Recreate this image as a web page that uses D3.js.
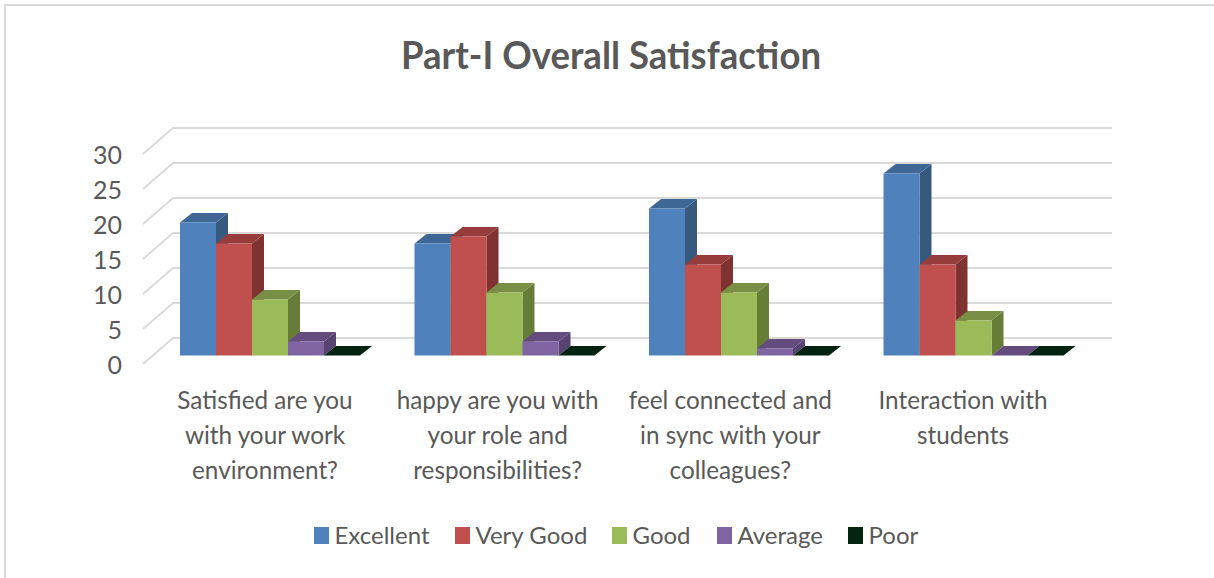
<!DOCTYPE html>
<html>
<head>
<meta charset="utf-8">
<script src="https://cdn.jsdelivr.net/npm/d3@7"></script>
<style>
  html, body { margin: 0; padding: 0; background: #fff; }
  svg { display: block; }
  text { font-family: Lato, "Open Sans", sans-serif; fill: #595959; }
</style>
</head>
<body>
<div id="chart"></div>
<script>
var categories = ["Satisfied", "Happy", "Connected", "Interaction"];
var categoryLines = [
  ["Satisfied are you", "with your work", "environment?"],
  ["happy are you with", "your role and", "responsibilities?"],
  ["feel connected and", "in sync with your", "colleagues?"],
  ["Interaction with", "students"]
];
var seriesNames = ["Excellent", "Very Good", "Good", "Average", "Poor"];
var excellent = [19, 16, 21, 26];
var veryGood = [16, 17, 13, 13];
var good = [8, 9, 9, 5];
var average = [2, 2, 1, 0];
var poor = [0, 0, 0, 0];
var seriesValues = [excellent, veryGood, good, average, poor];
var yTicks = [0, 5, 10, 15, 20, 25, 30];

var frontColors = ["#4f81bd", "#c0504d", "#9bbb59", "#8064a2", "#02230f"];
var topColors = ["#3f6796", "#963d3b", "#788f45", "#644d7e", "#02230f"];
var sideColors = ["#37587f", "#7f3230", "#667d38", "#574370", "#02230f"];

var w = 1214, h = 578;
var depthX = 30, depthY = 26;     // whole floor depth
var barDepthX = 12, barDepthY = 9.5;
var barShiftX = 9.5, barShiftY = 8.5;

var svg = d3.select("#chart").append("svg")
    .attr("width", w)
    .attr("height", h);

// chart frame, only top and left show in the picture
svg.append("path")
    .attr("d", "M5,578V5H1214")
    .attr("fill", "none")
    .attr("stroke", "#d9d9d9")
    .attr("stroke-width", 2);

svg.append("text")
    .attr("x", 401)
    .attr("y", 69)
    .attr("textLength", 420)
    .attr("lengthAdjust", "spacingAndGlyphs")
    .style("font-size", "38px")
    .style("font-weight", 700)
    .text("Part-I Overall Satisfaction");

var y = d3.scaleLinear().domain([0, 30]).range([364, 154]);

var x = d3.scaleBand().domain(categories).range([143, 1081]);
var inner = d3.scaleBand().domain(seriesNames)
    .range([barShiftX + 27.5, barShiftX + 207.5]);

// wall lines, drawn on the front plane then pushed back
var grid = svg.append("g").attr("fill", "none").attr("stroke", "#d9d9d9").attr("stroke-width", 1.8);
grid.selectAll("path")
    .data(yTicks)
    .enter().append("path")
    .attr("d", function(d) {
      var x0 = x.range()[0], x1 = x.range()[1], yy = y(d);
      return "M" + x0 + "," + yy + "L" + (x0 + depthX) + "," + (yy - depthY) + "H" + (x1 + depthX + 1);
    });

// y labels
var yAxis = svg.append("g")
    .attr("transform", "translate(129,1)")
    .call(d3.axisLeft(y).tickValues(yTicks).tickSize(0).tickPadding(7).tickFormat(d3.format("d")));
yAxis.select(".domain").remove();
yAxis.selectAll("text")
    .style("font-size", "25px")
    .style("font-family", "Lato, sans-serif")
    .attr("fill", null);

// bars
var groups = svg.selectAll("g.group")
    .data(categories)
    .enter().append("g")
    .attr("class", "group")
    .attr("transform", function(d) { return "translate(" + x(d) + ",0)"; });

groups.each(function(cat, ci) {
  var g = d3.select(this);
  seriesNames.forEach(function(name, si) {
    var v = seriesValues[si][ci];
    var x0 = inner(name), x1 = x0 + inner.bandwidth();
    var base = y(0) - barShiftY, top = y(v) - barShiftY;

    if (v > 0) {
      g.append("path")
          .attr("fill", sideColors[si])
          .attr("d", "M" + x1 + "," + top + "l" + barDepthX + "," + (-barDepthY) +
                "V" + (base - barDepthY) + "L" + x1 + "," + base + "Z");
    }
    g.append("path")
        .attr("fill", topColors[si])
        .attr("d", "M" + x0 + "," + top + "l" + barDepthX + "," + (-barDepthY) +
              "H" + (x1 + barDepthX) + "L" + x1 + "," + top + "Z");
    if (v > 0) {
      g.append("rect")
          .attr("x", x0)
          .attr("y", top)
          .attr("width", inner.bandwidth())
          .attr("height", base - top)
          .attr("fill", frontColors[si]);
    }
  });
});

// category labels
var labelX = d3.scalePoint().domain(categories).range([265, 963]);
var labels = svg.selectAll("text.cat")
    .data(categories)
    .enter().append("text")
    .attr("class", "cat")
    .attr("text-anchor", "middle")
    .style("font-size", "24.3px");
labels.each(function(cat, ci) {
  d3.select(this).selectAll("tspan")
      .data(categoryLines[ci])
      .enter().append("tspan")
      .attr("x", labelX(cat))
      .attr("y", function(d, i) { return 409 + i * 35; })
      .text(function(d) { return d; });
});

// legend
var legendX = d3.scaleOrdinal().domain(seriesNames).range([314, 455, 612, 717, 848]);
var legend = svg.selectAll("g.legend")
    .data(seriesNames)
    .enter().append("g")
    .attr("class", "legend")
    .attr("transform", function(d) { return "translate(" + legendX(d) + ",527)"; });
legend.append("rect")
    .attr("width", 15)
    .attr("height", 17)
    .attr("fill", function(d, i) { return frontColors[i]; });
legend.append("text")
    .attr("x", 20.5)
    .attr("y", 17)
    .style("font-size", "24px")
    .text(function(d) { return d; });
</script>
</body>
</html>
